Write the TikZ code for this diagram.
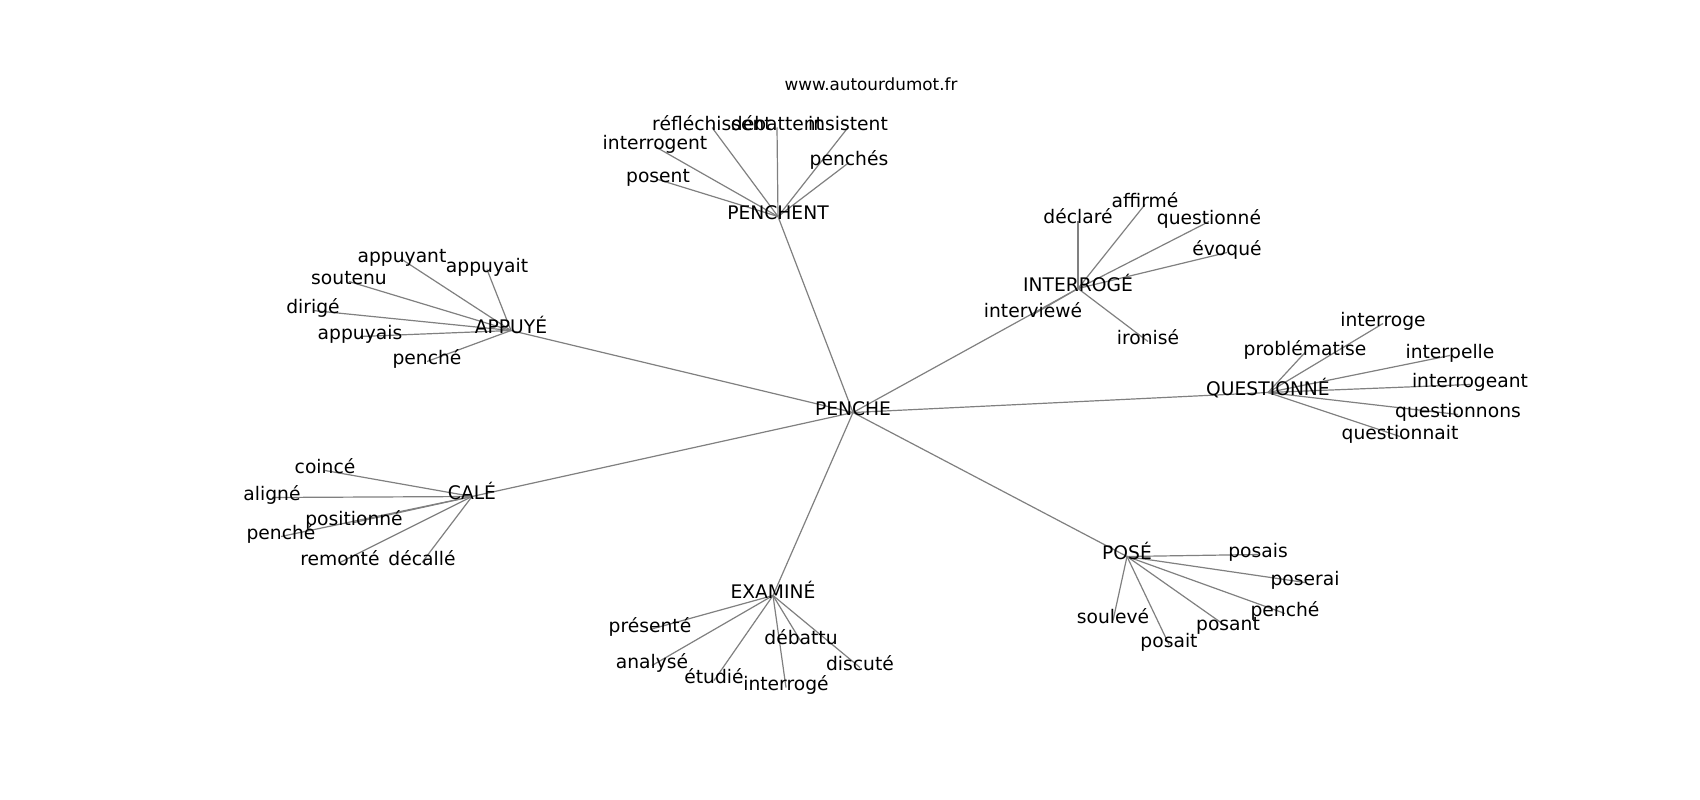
\documentclass[tikz,border=0pt]{standalone}
\usepackage{fontspec}
\setmainfont{DejaVu Sans}
\usetikzlibrary{backgrounds}
\begin{document}
\begin{tikzpicture}[x=1pt,y=-1pt,
  lbl/.style={font=\fontsize{18.7}{22}\selectfont, inner sep=0pt, text height=0.76em, text depth=0.208em},
  ttl/.style={font=\fontsize{16.8}{20}\selectfont, inner sep=0pt, text height=0.76em, text depth=0.208em},
  edge/.style={draw=gray, line width=1.2pt}]
\useasboundingbox (0,0) rectangle (1700,800);
\begin{scope}[shift={(0,4.5)}]
\node[ttl] (title) at (871,83) {www.autourdumot.fr};
% hubs
\node[lbl] (penche) at (853,408) {PENCHE};
\node[lbl] (penchent) at (778,212) {PENCHENT};
\node[lbl] (appuye) at (511,326) {APPUYÉ};
\node[lbl] (interroge) at (1078,284) {INTERROGÉ};
\node[lbl] (questionne) at (1268,388) {QUESTIONNÉ};
\node[lbl] (cale) at (472,492) {CALÉ};
\node[lbl] (examine) at (773,591) {EXAMINÉ};
\node[lbl] (pose) at (1127,552) {POSÉ};
% PENCHENT leaves
\node[lbl] (posent) at (658,175) {posent};
\node[lbl] (interrogent) at (655,142) {interrogent};
\node[lbl] (reflechissent) at (712,123) {réfléchissent};
\node[lbl] (debattent) at (777,123) {débattent};
\node[lbl] (insistent) at (848,123) {insistent};
\node[lbl] (penches) at (849,158) {penchés};
% APPUYÉ leaves
\node[lbl] (appuyant) at (402,255) {appuyant};
\node[lbl] (appuyait) at (487,265) {appuyait};
\node[lbl] (soutenu) at (349,277) {soutenu};
\node[lbl] (dirige) at (313,306) {dirigé};
\node[lbl] (appuyais) at (360,332) {appuyais};
\node[lbl] (pencheA) at (427,357) {penché};
% INTERROGÉ leaves
\node[lbl] (declare) at (1078,216) {déclaré};
\node[lbl] (affirme) at (1145,200) {affirmé};
\node[lbl] (questionneI) at (1209,217) {questionné};
\node[lbl] (evoque) at (1227,248) {évoqué};
\node[lbl] (interviewe) at (1033,310) {interviewé};
\node[lbl] (ironise) at (1148,337) {ironisé};
% QUESTIONNÉ leaves
\node[lbl] (interrogeQ) at (1383,319) {interroge};
\node[lbl] (problematise) at (1305,348) {problématise};
\node[lbl] (interpelle) at (1450,351) {interpelle};
\node[lbl] (interrogeant) at (1470,380) {interrogeant};
\node[lbl] (questionnons) at (1458,410) {questionnons};
\node[lbl] (questionnait) at (1400,432) {questionnait};
% CALÉ leaves
\node[lbl] (coince) at (325,466) {coincé};
\node[lbl] (aligne) at (272,493) {aligné};
\node[lbl] (positionne) at (354,518) {positionné};
\node[lbl] (pencheC) at (281,532) {penché};
\node[lbl] (remonte) at (340,558) {remonté};
\node[lbl] (decalle) at (422,558) {décallé};
% EXAMINÉ leaves
\node[lbl] (presente) at (650,625) {présenté};
\node[lbl] (debattu) at (801,637) {débattu};
\node[lbl] (analyse) at (652,661) {analysé};
\node[lbl] (discute) at (860,663) {discuté};
\node[lbl] (etudie) at (714,676) {étudié};
\node[lbl] (interrogeE) at (786,683) {interrogé};
% POSÉ leaves
\node[lbl] (posais) at (1258,550) {posais};
\node[lbl] (poserai) at (1305,578) {poserai};
\node[lbl] (pencheP) at (1285,609) {penché};
\node[lbl] (souleve) at (1113,616) {soulevé};
\node[lbl] (posant) at (1228,623) {posant};
\node[lbl] (posait) at (1169,640) {posait};
\end{scope}
\begin{pgfonlayer}{background}
\fill[white] (0,0) rectangle (1700,800);
\foreach \h in {penchent,appuye,interroge,questionne,cale,examine,pose}
  \draw[edge] (penche.center) -- (\h.center);
\foreach \l in {posent,interrogent,reflechissent,debattent,insistent,penches}
  \draw[edge] (penchent.center) -- (\l.center);
\foreach \l in {appuyant,appuyait,soutenu,dirige,appuyais,pencheA}
  \draw[edge] (appuye.center) -- (\l.center);
\foreach \l in {declare,affirme,questionneI,evoque,interviewe,ironise}
  \draw[edge] (interroge.center) -- (\l.center);
\foreach \l in {interrogeQ,problematise,interpelle,interrogeant,questionnons,questionnait}
  \draw[edge] (questionne.center) -- (\l.center);
\foreach \l in {coince,aligne,positionne,pencheC,remonte,decalle}
  \draw[edge] (cale.center) -- (\l.center);
\foreach \l in {presente,debattu,analyse,discute,etudie,interrogeE}
  \draw[edge] (examine.center) -- (\l.center);
\foreach \l in {posais,poserai,pencheP,souleve,posant,posait}
  \draw[edge] (pose.center) -- (\l.center);
\end{pgfonlayer}
\end{tikzpicture}
\end{document}
